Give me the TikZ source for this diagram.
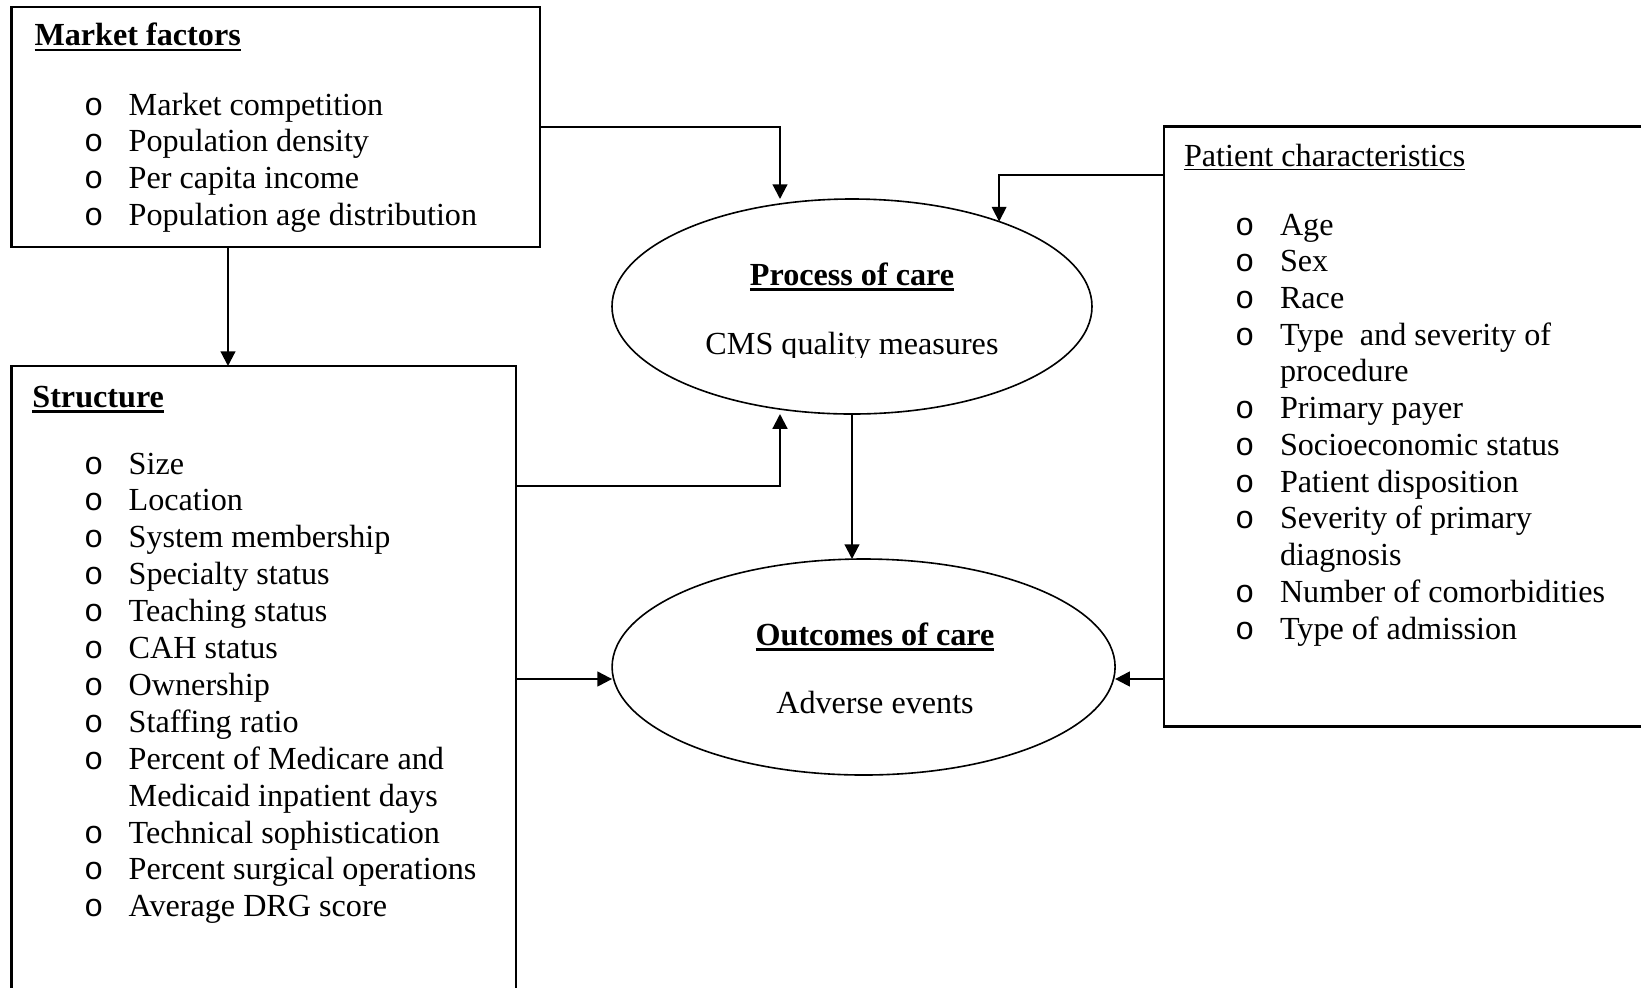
\documentclass[tikz,border=0pt]{standalone}
\usepackage{fontspec}
\setmainfont{Liberation Serif}
\newfontfamily\bulfont{Liberation Mono}
\usetikzlibrary{arrows.meta,shapes.geometric,calc}
\newcommand\ulbold[1]{\setbox0\hbox{#1}\rlap{\rule[-2.2pt]{\wd0}{1pt}}\box0}
\newcommand\ulthin[1]{\setbox0\hbox{#1}\rlap{\rule[-1.5pt]{\wd0}{0.5pt}}\box0}
\def\px{0.3731pt}
\tikzset{
  box/.style={draw, line width=0.85pt, rectangle, inner sep=0, outer sep=0},
  oval/.style={draw, line width=0.6pt, ellipse, inner sep=0, outer sep=0},
  txt/.style={anchor=base west, inner sep=0, outer sep=0, font=\fontsize{12}{14}\selectfont},
  ctxt/.style={anchor=base, inner sep=0, outer sep=0, font=\fontsize{12}{14}\selectfont},
  bul/.style={anchor=base west, inner sep=0, outer sep=0, font=\fontsize{12}{14}\bulfont},
  arr/.style={line width=0.8pt, -{Triangle[length=5.5pt,width=5.5pt]}},
  thinarr/.style={line width=0.55pt, -{Triangle[length=5.5pt,width=5.5pt]}},
}
\begin{document}
\begin{tikzpicture}[x=0.3731pt,y=-0.3731pt]
\useasboundingbox (0,0) rectangle (1641,987);
\clip (0,0) rectangle (1641,987);
\fill[white] (0,0) rectangle (1641,987);

% boxes
\node[box, minimum width={528.5*\px}, minimum height={240*\px}] (mk) at (275.75,127) {};
\node[box, minimum width={504.5*\px}, minimum height={644*\px}] (st) at (263.75,688) {};
\node[box, minimum width={496*\px}, minimum height={600*\px}] (pt) at (1412,426.5) {};

% ellipses
\node[oval, minimum width={480*\px}, minimum height={215*\px}] (proc) at (852,306.5) {};
\node[oval, minimum width={503*\px}, minimum height={216*\px}] (oc) at (863.6,667) {};

% Market factors text
\node[txt] (mkh) at (34.5,45.5) {\bfseries\ulbold{Market factors}};
\foreach \t [count=\i from 0] in {Market competition, Population density, Per capita income, Population age distribution}{
  \node[bul] (mkb\i) at (84,115+36.8*\i) {o};
  \node[txt] (mkt\i) at (128.7,115+36.8*\i) {\t};
}

% Structure text
\node[txt] (sth) at (32.4,407) {\bfseries\ulbold{Structure}};
\foreach \b/\t [count=\i from 0] in {1/Size, 1/Location, 1/System membership, 1/Specialty status, 1/Teaching status, 1/CAH status, 1/Ownership, 1/Staffing ratio, 1/Percent of Medicare and, 0/Medicaid inpatient days, 1/Technical sophistication, 1/Percent surgical operations, 1/Average DRG score}{
  \ifnum\b=1 \node[bul] (stb\i) at (84,474+36.9*\i) {o};\fi
  \node[txt] (stt\i) at (128.7,474+36.9*\i) {\t};
}

% Patient characteristics text
\node[txt] (pth) at (1184,166) {\ulthin{Patient characteristics}};
\foreach \b/\t [count=\i from 0] in {1/Age, 1/Sex, 1/Race, 1/Type~ and severity of, 0/procedure, 1/Primary payer, 1/Socioeconomic status, 1/Patient disposition, 1/Severity of primary, 0/diagnosis, 1/Number of comorbidities, 1/Type of admission}{
  \ifnum\b=1 \node[bul] (ptb\i) at (1235,235+36.73*\i) {o};\fi
  \node[txt] (ptt\i) at (1280,235+36.73*\i) {\t};
}

% Process of care text
\node[ctxt] (proch) at (852,285) {\bfseries\ulbold{Process of care}};
\begin{scope}
  \clip (700,320) rectangle (1000,357);
  \node[ctxt] (procm) at (852,354) {CMS quality measures};
\end{scope}

% Outcomes of care text
\node[ctxt] (och) at (875,645) {\bfseries\ulbold{Outcomes of care}};
\node[ctxt] (ocm) at (875,713) {Adverse events};

% connectors
\draw[arr] (mk.east) -| ($(proc.north)+(-72,0)$);
\coordinate (ms) at ($(mk.south west)+(216.5,0)$);
\draw[arr] (ms) -- (ms |- st.north);
\coordinate (sa) at ($(st.north east)+(0,120)$);
\draw[arr] (sa) -| ($(proc.south)+(-72,0)$);
\draw[arr] (proc.south) -- (proc.south |- oc.north);
\coordinate (sb) at ($(st.north east)+(0,313)$);
\draw[arr] (sb) -- (sb -| oc.west);
\coordinate (pa) at ($(pt.north west)+(0,48.5)$);
\draw[thinarr] (pa) -| (proc.30.8);
\coordinate (pb) at ($(pt.north west)+(0,552.5)$);
\draw[arr] (pb) -- (pb -| oc.east);
\end{tikzpicture}
\end{document}
